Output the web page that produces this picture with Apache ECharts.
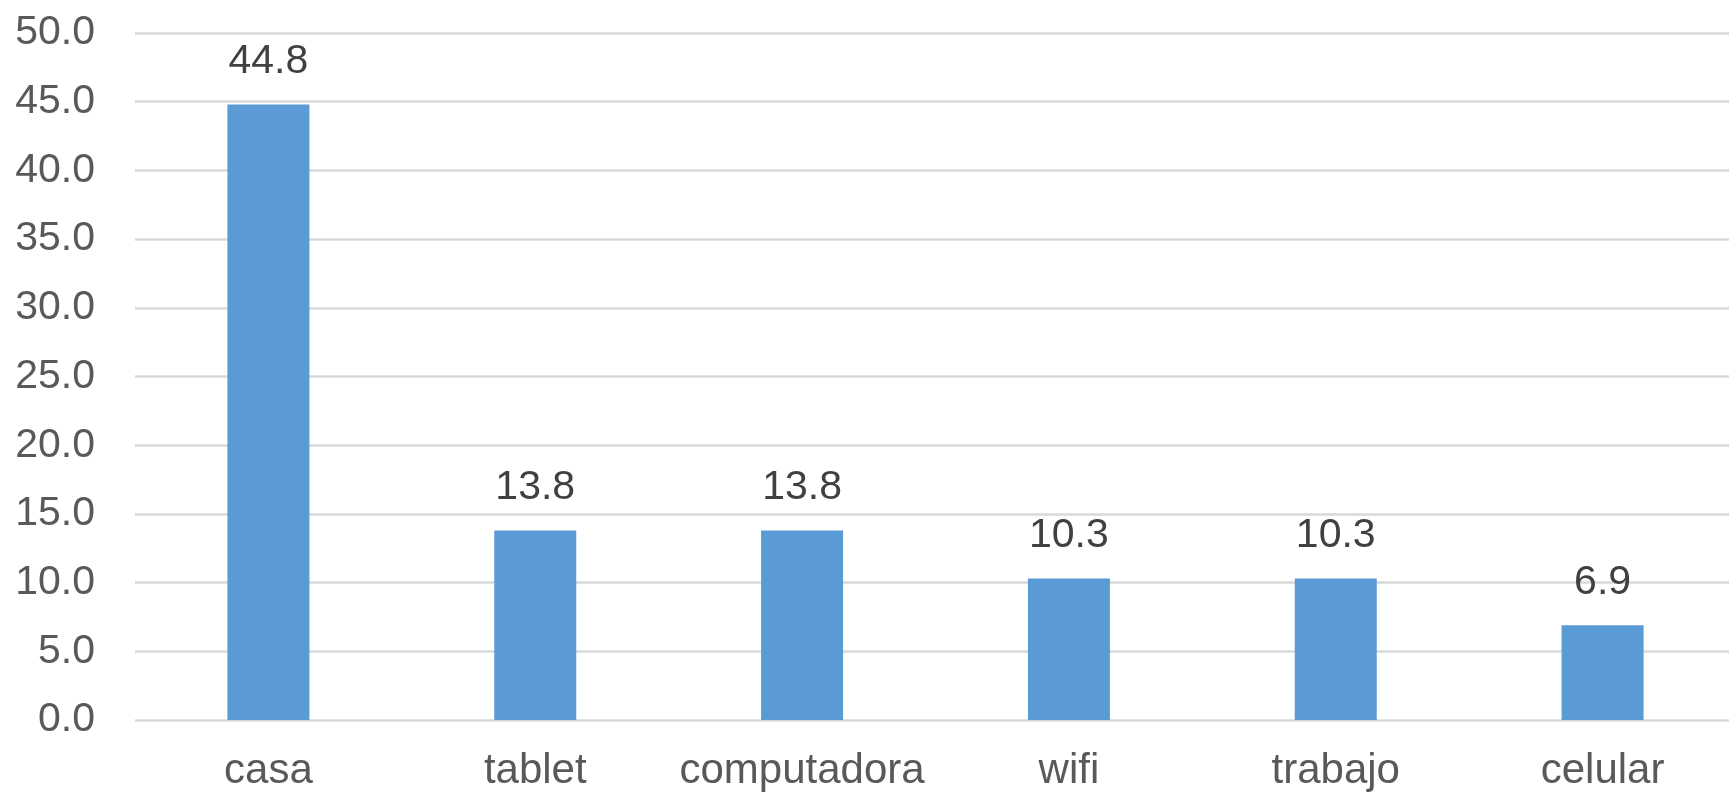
<!DOCTYPE html>
<html>
<head>
<meta charset="utf-8">
<script src="https://cdn.jsdelivr.net/npm/echarts@6/dist/echarts.min.js"></script>
<style>
html,body{margin:0;padding:0;background:#fff;}
#chart{width:1729px;height:792px;}
</style>
</head>
<body>
<div id="chart"></div>
<script>
const categories = ['casa', 'tablet', 'computadora', 'wifi', 'trabajo', 'celular'];
const values = [44.8, 13.8, 13.8, 10.3, 10.3, 6.9];
const yMin = 0, yMax = 50, yStep = 5;

const chart = echarts.init(document.getElementById('chart'));
const font = 'Liberation Sans, Arial, sans-serif';
chart.setOption({
  animation: false,
  backgroundColor: '#ffffff',
  grid: { left: 135, top: 33, bottom: 72, width: 1601, containLabel: false, outerBoundsMode: 'none' },
  xAxis: {
    type: 'category',
    data: categories,
    axisLine: { show: false },
    axisTick: { show: false },
    axisLabel: { interval: 0, color: '#595959', fontSize: 42, fontFamily: font, margin: 30 }
  },
  yAxis: {
    type: 'value',
    min: yMin, max: yMax, interval: yStep,
    axisLine: { show: false },
    axisTick: { show: false },
    axisLabel: { color: '#595959', fontSize: 41, fontFamily: font, margin: 40,
      formatter: v => v.toFixed(1) },
    splitLine: { lineStyle: { color: '#d9d9d9', width: 2.5 } }
  },
  series: [{
    type: 'bar',
    data: values,
    barWidth: 82,
    itemStyle: { color: '#5b9bd5' },
    label: { show: true, position: 'top', distance: 22, color: '#404040',
      fontSize: 41, fontFamily: font, formatter: p => p.value.toFixed(1) }
  }]
});
</script>
</body>
</html>
